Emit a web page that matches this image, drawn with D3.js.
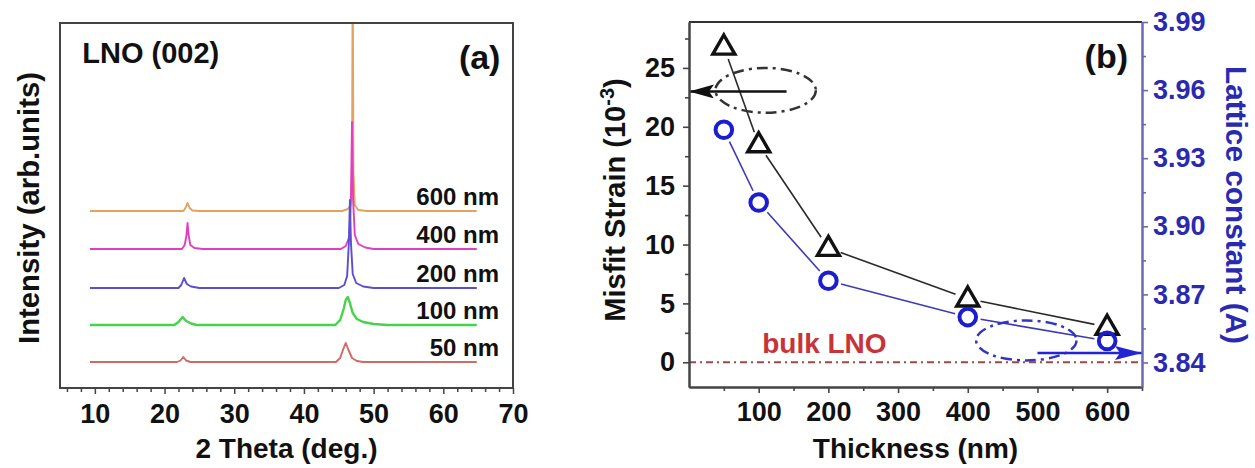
<!DOCTYPE html>
<html><head><meta charset="utf-8">
<script src="https://cdn.jsdelivr.net/npm/d3@7"></script>
<style>
html,body{margin:0;padding:0;background:#fff;}
svg{display:block;font-family:"Liberation Sans",Arial,sans-serif;font-weight:bold;}
</style></head>
<body>
<svg id="chart" width="1255" height="468"></svg>
<script>
// ---------- Panel (a) data : XRD patterns ----------
const samplesA = ["600 nm","400 nm","200 nm","100 nm","50 nm"];
const colorsA  = ["#e3a35e","#e23ec4","#5a4fd0","#46d24a","#cf6a64"];
const offsetsA = [177, 139, 100, 63, 26];
const trace600 = [[9.3,0],[22.7,0],[23.0,3],[23.3,8],[23.6,3],[24.0,0.5],[25,0],[45.5,0],[46.3,2],[46.7,6],[46.9,40],[47.0,260],[47.1,40],[47.3,6],[47.8,1],[49,0],[64.8,0]];
const trace400 = [[9.3,0],[22.5,0],[22.9,4],[23.15,14],[23.3,26],[23.45,14],[23.7,4],[24.3,1],[25.5,0],[45.3,0],[46.0,3],[46.5,12],[46.75,50],[46.9,127],[47.05,50],[47.3,14],[47.8,5],[48.8,1.5],[50,0],[64.8,0]];
const trace200 = [[9.3,0],[22.0,0],[22.4,3],[22.8,10],[23.2,4],[23.8,1.5],[25,0],[45.0,0],[45.8,3],[46.2,12],[46.45,45],[46.6,88],[46.75,45],[47.0,14],[47.5,5],[48.5,1.5],[50,0],[64.8,0]];
const trace100 = [[9.3,0],[21.4,0],[22.0,3],[22.6,8],[23.1,4],[23.8,1.5],[24.6,0],[44.5,0],[45.2,5],[45.7,16],[46.0,25],[46.3,28],[46.6,22],[47.0,12],[47.6,6],[48.5,3],[50,1],[52,0],[64.8,0]];
const trace50  = [[9.3,0],[21.8,0],[22.3,1.5],[22.7,5],[23.1,1.5],[23.7,0],[44.6,0],[45.2,4],[45.6,12],[46.0,19],[46.4,12],[46.9,4],[47.6,1],[48.5,0],[64.8,0]];
const tracesA = [trace600, trace400, trace200, trace100, trace50];
const ticksA = [10,20,30,40,50,60,70];
const minorTicksA = [6,8,12,14,16,18,22,24,26,28,32,34,36,38,42,44,46,48,52,54,56,58,62,64,66,68];

// ---------- Panel (b) data ----------
const thickness = [50,100,200,400,600];
const misfitStrain = [26.8,18.5,9.7,5.4,3.0];
const latticeConst = [3.9425,3.9105,3.876,3.860,3.8495];
const ticksBx = [100,200,300,400,500,600];
const minorTicksBx = [50,150,250,350,450,550,650];
const ticksBl = [0,5,10,15,20,25];
const minorTicksBl = [2.5,7.5,12.5,17.5,22.5,27.5];
const ticksBr = [3.84,3.87,3.90,3.93,3.96,3.99];
const minorTicksBr = [3.855,3.885,3.915,3.945,3.975];
const bulkStrain = 0;
// annotations (data units)
const leftEllipse = {cx:110, cy:23.1, rx:72, ry:1.9};
const leftArrow = {x1:140, x2:0, y:23};
const rightEllipse = {cx:484, cy:3.8497, rx:72, ry:0.0088};
const rightArrow = {x1:500, x2:650, y:3.8442};
const bulkLabel = {x:105, y:0.8, text:"bulk LNO"};

const svg = d3.select("#chart");
const defs = svg.append("defs");

// ================= Panel (a) =================
const xA = d3.scaleLinear().domain([5,70]).range([60,513]);
const yA = d3.scaleLinear().domain([0,365]).range([388,23]);
defs.append("clipPath").attr("id","clipA").append("rect")
  .attr("x",xA(5)).attr("y",yA(365)).attr("width",xA(70)-xA(5)).attr("height",yA(0)-yA(365));

const gA = svg.append("g");
const lineA = d3.line().x(d=>xA(d[0])).y(d=>yA(d[1]));
const gTr = gA.append("g").attr("clip-path","url(#clipA)");
tracesA.forEach((t,i)=>{
  gTr.append("path")
    .attr("d", lineA(t.map(p=>[p[0], p[1]+offsetsA[i]])))
    .attr("fill","none").attr("stroke",colorsA[i])
    .attr("stroke-width", i===3 ? 2.4 : 1.9).attr("stroke-linejoin","round");
});
// labels of traces
samplesA.forEach((s,i)=>{
  gA.append("text").attr("x",xA(68.0)).attr("y",yA(offsetsA[i]+6))
    .attr("text-anchor","end").attr("font-size",24).attr("fill","#111").text(s);
});
// frame
gA.append("rect").attr("x",xA(5)).attr("y",yA(365)).attr("width",xA(70)-xA(5)).attr("height",yA(0)-yA(365))
  .attr("fill","none").attr("stroke","#444").attr("stroke-width",2);
// x axis
const axA = gA.append("g").attr("transform",`translate(0,${yA(0)})`)
  .call(d3.axisBottom(xA).tickValues(ticksA).tickSize(6).tickPadding(10).tickFormat(d3.format("d")));
const axAm = gA.append("g").attr("transform",`translate(0,${yA(0)})`)
  .call(d3.axisBottom(xA).tickValues(minorTicksA).tickSize(4).tickFormat(""));
[axA,axAm].forEach(a=>{a.select(".domain").remove(); a.selectAll("line").attr("stroke","#444").attr("stroke-width",1.5);});
axA.selectAll("text").attr("font-size",27).attr("fill","#111").attr("font-family","Liberation Sans, Arial, sans-serif").attr("font-weight","bold");
// titles
gA.append("text").attr("x",xA(8.2)).attr("y",yA(365)+40).attr("font-size",29).attr("fill","#111").text("LNO (002)");
gA.append("text").attr("x",xA(68.2)).attr("y",yA(365)+46).attr("text-anchor","end").attr("font-size",34).attr("fill","#111").text("(a)");
gA.append("text").attr("x",(xA(5)+xA(70))/2).attr("y",458).attr("text-anchor","middle").attr("font-size",28).attr("fill","#111").text("2 Theta (deg.)");
gA.append("text").attr("transform",`translate(29,208) rotate(-90)`).attr("text-anchor","middle")
  .attr("dy","0.35em").attr("font-size",29).attr("fill","#111")
  .attr("textLength",272).attr("lengthAdjust","spacingAndGlyphs").text("Intensity (arb.units)");

// ================= Panel (b) =================
const xB = d3.scaleLinear().domain([0,650]).range([689,1142]);
const yL = d3.scaleLinear().domain([-2.1,28.9]).range([387,22]);
const yR = d3.scaleLinear().domain([3.8292,3.99]).range([387,22]);
const gB = svg.append("g");

// arrow markers
defs.append("marker").attr("id","arrBlack").attr("viewBox","0 0 25 14").attr("refX",25).attr("refY",7)
  .attr("markerWidth",25).attr("markerHeight",14).attr("markerUnits","userSpaceOnUse").attr("orient","auto")
  .append("path").attr("d","M0,0 L25,7 L0,14 L5,7 Z").attr("fill","#111");
defs.append("marker").attr("id","arrBlue").attr("viewBox","0 0 27 14").attr("refX",27).attr("refY",7)
  .attr("markerWidth",27).attr("markerHeight",14).attr("markerUnits","userSpaceOnUse").attr("orient","auto")
  .append("path").attr("d","M0,0 L27,7 L0,14 L5,7 Z").attr("fill","#2323d6");

// bulk line
gB.append("line").attr("x1",xB(0)).attr("x2",xB(650)).attr("y1",yL(bulkStrain)).attr("y2",yL(bulkStrain))
  .attr("stroke","#a04848").attr("stroke-width",2).attr("stroke-dasharray","7,4,2,4");
gB.append("text").attr("x",xB(bulkLabel.x)).attr("y",yL(bulkLabel.y)).attr("font-size",28).attr("fill","#c8333a").text(bulkLabel.text);

// connecting lines with gaps
function gappedSegments(pts, gap, color, width){
  for(let i=0;i<pts.length-1;i++){
    const [x1,y1]=pts[i],[x2,y2]=pts[i+1];
    const dx=x2-x1, dy=y2-y1, L=Math.hypot(dx,dy);
    if(L<2*gap) continue;
    const ux=dx/L, uy=dy/L;
    gB.append("line").attr("x1",x1+ux*gap).attr("y1",y1+uy*gap).attr("x2",x2-ux*gap).attr("y2",y2-uy*gap)
      .attr("stroke",color).attr("stroke-width",width);
  }
}
const ptsS = thickness.map((t,i)=>[xB(t), yL(misfitStrain[i])]);
const ptsC = thickness.map((t,i)=>[xB(t), yR(latticeConst[i])]);
gappedSegments(ptsS, 13, "#2a2a2a", 1.6);
gappedSegments(ptsC, 13, "#3b3bb8", 1.6);

// markers
const tri = d3.symbol().type(d3.symbolTriangle).size(210);
gB.selectAll(".tri").data(ptsS).join("path").attr("class","tri")
  .attr("transform",d=>`translate(${d[0]},${d[1]+1})`).attr("d",tri)
  .attr("fill","none").attr("stroke","#111").attr("stroke-width",3.4).attr("stroke-linejoin","miter");
gB.selectAll(".circ").data(ptsC).join("circle").attr("class","circ")
  .attr("cx",d=>d[0]).attr("cy",d=>d[1]).attr("r",8.3)
  .attr("fill","none").attr("stroke","#1c1cd0").attr("stroke-width",4);

// annotations
gB.append("ellipse").attr("cx",xB(leftEllipse.cx)).attr("cy",yL(leftEllipse.cy))
  .attr("rx",xB(leftEllipse.cx+leftEllipse.rx)-xB(leftEllipse.cx)).attr("ry",yL(leftEllipse.cy)-yL(leftEllipse.cy+leftEllipse.ry))
  .attr("fill","none").attr("stroke","#333").attr("stroke-width",2.5).attr("stroke-dasharray","11,5,3,5");
gB.append("line").attr("x1",xB(leftArrow.x1)).attr("x2",xB(leftArrow.x2)).attr("y1",yL(leftArrow.y)).attr("y2",yL(leftArrow.y))
  .attr("stroke","#111").attr("stroke-width",2.5).attr("marker-end","url(#arrBlack)");
gB.append("ellipse").attr("cx",xB(rightEllipse.cx)).attr("cy",yR(rightEllipse.cy))
  .attr("rx",xB(rightEllipse.cx+rightEllipse.rx)-xB(rightEllipse.cx)).attr("ry",yR(rightEllipse.cy)-yR(rightEllipse.cy+rightEllipse.ry))
  .attr("fill","none").attr("stroke","#3434c4").attr("stroke-width",2.5).attr("stroke-dasharray","11,5,3,5");
gB.append("line").attr("x1",xB(rightArrow.x1)).attr("x2",xB(rightArrow.x2)).attr("y1",yR(rightArrow.y)).attr("y2",yR(rightArrow.y))
  .attr("stroke","#2323d6").attr("stroke-width",2.5).attr("marker-end","url(#arrBlue)");

// frame top
gB.append("line").attr("x1",xB(0)).attr("x2",xB(650)).attr("y1",yL(28.9)).attr("y2",yL(28.9)).attr("stroke","#333").attr("stroke-width",2);
// axes
function styleAxis(a, color, fs){
  a.select(".domain").attr("stroke",color).attr("stroke-width",2);
  a.selectAll("line").attr("stroke",color).attr("stroke-width",1.6);
  a.selectAll("text").attr("font-size",fs).attr("fill",color==="#444"?"#111":"#2a2ab0")
    .attr("font-family","Liberation Sans, Arial, sans-serif").attr("font-weight","bold");
}
const axBx = gB.append("g").attr("transform",`translate(0,${yL(-2.1)})`)
  .call(d3.axisBottom(xB).tickValues(ticksBx).tickSize(6).tickSizeOuter(0).tickPadding(9).tickFormat(d3.format("d")));
const axBxm = gB.append("g").attr("transform",`translate(0,${yL(-2.1)})`)
  .call(d3.axisBottom(xB).tickValues(minorTicksBx).tickSize(4).tickSizeOuter(0).tickFormat(""));
styleAxis(axBx,"#444",27); styleAxis(axBxm,"#444",27);
const axBl = gB.append("g").attr("transform",`translate(${xB(0)},0)`)
  .call(d3.axisLeft(yL).tickValues(ticksBl).tickSize(6).tickSizeOuter(0).tickPadding(8).tickFormat(d3.format("d")));
const axBlm = gB.append("g").attr("transform",`translate(${xB(0)},0)`)
  .call(d3.axisLeft(yL).tickValues(minorTicksBl).tickSize(4).tickSizeOuter(0).tickFormat(""));
styleAxis(axBl,"#444",27); styleAxis(axBlm,"#444",27);
const axBr = gB.append("g").attr("transform",`translate(${xB(650)},0)`)
  .call(d3.axisRight(yR).tickValues(ticksBr).tickSize(6).tickSizeOuter(0).tickPadding(5).tickFormat(d3.format(".2f")));
const axBrm = gB.append("g").attr("transform",`translate(${xB(650)},0)`)
  .call(d3.axisRight(yR).tickValues(minorTicksBr).tickSize(4).tickSizeOuter(0).tickFormat(""));
styleAxis(axBr,"#6a6ab4",27); styleAxis(axBrm,"#6a6ab4",27);
axBr.selectAll("text").attr("fill","#2a2ab0");

// titles
gB.append("text").attr("x",xB(650)-14).attr("y",yL(28.9)+46).attr("text-anchor","end").attr("font-size",34).attr("fill","#111").text("(b)");
gB.append("text").attr("x",(xB(0)+xB(650))/2).attr("y",458).attr("text-anchor","middle").attr("font-size",28).attr("fill","#111").text("Thickness (nm)");
const ml = gB.append("text").attr("transform",`translate(615,200) rotate(-90)`)
  .attr("text-anchor","middle").attr("dy","0.35em").attr("font-size",29).attr("fill","#111");
ml.append("tspan").text("Misfit Strain (10");
ml.append("tspan").attr("font-size",20).attr("dy",-11).text("-3");
ml.append("tspan").attr("dy",11).text(")");
gB.append("text").attr("transform",`translate(1236,205) rotate(90)`)
  .attr("text-anchor","middle").attr("dy","0.35em").attr("font-size",29).attr("fill","#2a2ab0")
  .attr("textLength",278).attr("lengthAdjust","spacingAndGlyphs").text("Lattice constant (A)");
</script>
</body></html>
